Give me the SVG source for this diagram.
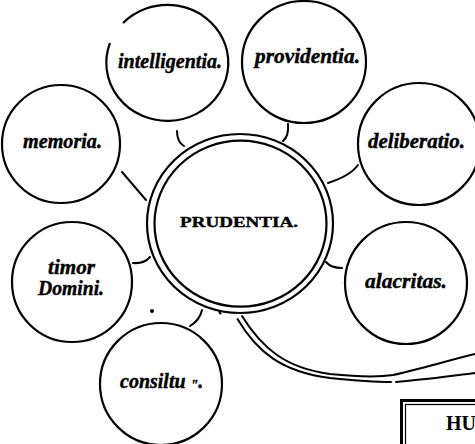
<svg xmlns="http://www.w3.org/2000/svg" width="475" height="444" viewBox="0 0 475 444">
<style>
.c{fill:none;stroke:#000;stroke-width:2.2}
.k{fill:none;stroke:#000;stroke-width:2;stroke-linecap:round}
.t{font-family:"Liberation Serif","DejaVu Serif",serif;font-weight:bold;font-style:italic;font-size:20px;fill:#000;stroke:#000;stroke-width:0.4}
.p{font-family:"Liberation Serif","DejaVu Serif",serif;font-weight:bold;font-size:15px;fill:#000;stroke:#000;stroke-width:0.4}
</style>
<rect width="475" height="444" fill="#fff"/>
<g id="prudentia">
<ellipse class="c" cx="240" cy="223.5" rx="93" ry="89.5"/>
<ellipse class="c" cx="240.5" cy="223.7" rx="86" ry="83" stroke-width="1.8"/>
<text class="p" x="180" y="227" textLength="118" lengthAdjust="spacingAndGlyphs">PRUDENTIA.</text>
</g>
<g id="intelligentia">
<path class="c" d="M 123 23 A 61 58 0 1 1 110 43"/>
<text class="t" x="118" y="68" textLength="104" lengthAdjust="spacingAndGlyphs">intelligentia.</text>
</g>
<g id="providentia">
<ellipse class="c" cx="304" cy="62" rx="62" ry="61"/>
<text class="t" x="255" y="63" textLength="105" lengthAdjust="spacingAndGlyphs">providentia.</text>
</g>
<g id="deliberatio">
<circle class="c" cx="419" cy="144" r="61"/>
<text class="t" x="368" y="148" textLength="97" lengthAdjust="spacingAndGlyphs">deliberatio.</text>
</g>
<g id="memoria">
<circle class="c" cx="61" cy="144" r="59"/>
<text class="t" x="23" y="148" textLength="79" lengthAdjust="spacingAndGlyphs">memoria.</text>
</g>
<g id="timor">
<circle class="c" cx="72" cy="282" r="60"/>
<text class="t" x="48" y="274" font-size="18" textLength="47" lengthAdjust="spacingAndGlyphs">timor</text>
<text class="t" x="38" y="295" font-size="18" textLength="66" lengthAdjust="spacingAndGlyphs">Domini.</text>
</g>
<g id="consiltu">
<circle class="c" cx="161" cy="384" r="61"/>
<text class="t" x="120" y="388">consiltu <tspan font-size="14" dy="2">"</tspan><tspan dy="-2">.</tspan></text>
</g>
<g id="alacritas">
<circle class="c" cx="406" cy="283" r="61"/>
<text class="t" x="365" y="288" textLength="82" lengthAdjust="spacingAndGlyphs">alacritas.</text>
</g>
<g id="box">
<rect x="401.5" y="400.5" width="100" height="100" fill="none" stroke="#000" stroke-width="3"/>
<rect x="405.5" y="404.5" width="100" height="100" fill="none" stroke="#000" stroke-width="1.2"/>
<text x="446" y="430" style="font-family:'Liberation Serif','DejaVu Serif',serif;font-weight:bold;font-size:20px">HU</text>
</g>
<g id="connectors">
<path class="k" d="M 177 131 Q 177 142 184 146"/>
<path class="k" d="M 288 124 Q 289 136 283 141"/>
<path class="k" d="M 358 165 Q 350 176 328 183"/>
<path class="k" d="M 122 172 L 146 200"/>
<path class="k" d="M 133 263 Q 144 264 150 257"/>
<path class="k" d="M 190 326 Q 200 320 202 310"/>
<path class="k" d="M 326 262 Q 331 268 342 268"/>
<circle cx="152" cy="311" r="2" fill="#000"/>
<path class="k" d="M 219.5 312.5 L 220.5 313.5"/>
<path class="k" d="M 242 316 C 262 348 285 368 330 374 C 360 377 380 377 393 375 C 420 369 450 360 475 354" stroke-width="1.8"/>
<path class="k" d="M 237.5 319 C 257 352 282 372 330 378 C 360 381 378 382 391 382" stroke-width="1.8"/>
<path class="k" d="M 396 382 C 420 380 450 376 475 373" stroke-width="1.8"/>
</g>
</svg>
